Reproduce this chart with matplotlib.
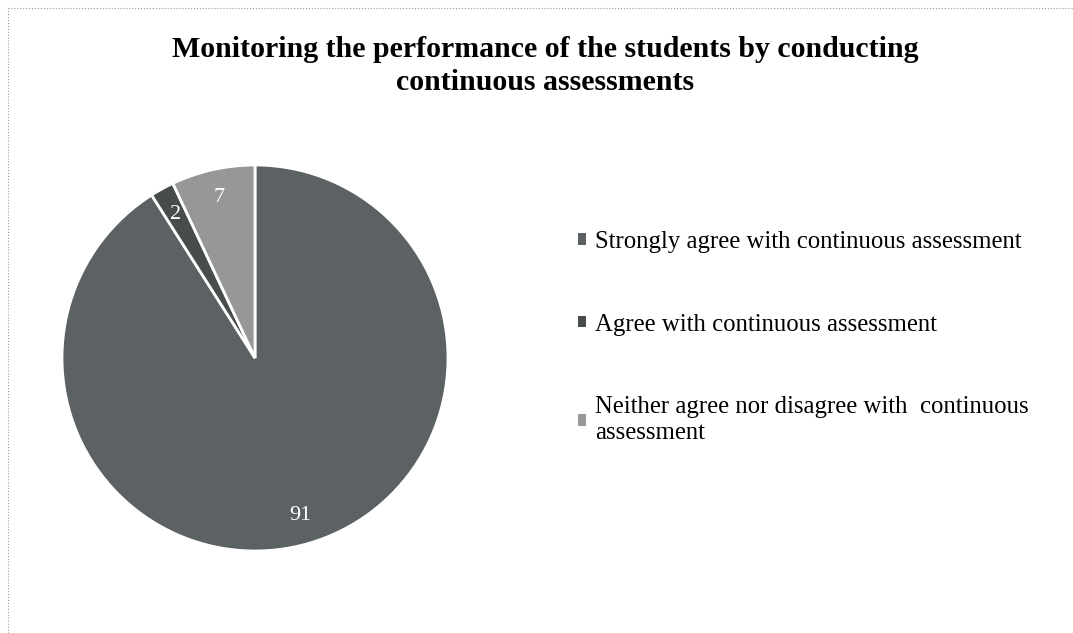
import matplotlib.pyplot as plt
from matplotlib.lines import Line2D
from matplotlib.patches import Patch

# data
categories = ['Strongly agree with continuous assessment',
              'Agree with continuous assessment',
              'Neither agree nor disagree with  continuous\nassessment']
values = [91, 2, 7]
colors = ['#5c6163', '#474c4d', '#959798']

plt.rcParams['font.family'] = ['Liberation Serif', 'DejaVu Serif']

fig = plt.figure(figsize=(10.73, 6.33), dpi=100)
W, H = 1073, 633

# thin frame at top / left like the scanned page
fig.add_artist(Line2D([8 / W, 1], [1 - 8 / H, 1 - 8 / H], color='#999999', lw=0.8, ls=':'))
fig.add_artist(Line2D([8 / W, 8 / W], [0, 1 - 8 / H], color='#999999', lw=0.8, ls=':'))

fig.suptitle('Monitoring the performance of the students by conducting\ncontinuous assessments',
             x=545 / W, y=1 - 36 / H, fontsize=21.5, fontweight='bold', linespacing=1.3)

# pie axes
cx, cy, r = 255, 358, 193
ax = fig.add_axes([(cx - r) / W, 1 - (cy + r) / H, 2 * r / W, 2 * r / H])
wedges, texts = ax.pie(values, colors=colors, startangle=90, counterclock=False,
                       labels=[str(v) for v in values], labeldistance=0.85,
                       wedgeprops=dict(edgecolor='white', linewidth=2),
                       textprops=dict(color='white', fontsize=16))
for t in texts:
    t.set_ha('center')
    t.set_va('center')
ax.set_xlim(-1, 1)
ax.set_ylim(-1, 1)
ax.set_aspect('equal')

handles = [Patch(facecolor=c, edgecolor='none') for c in colors]
leg = fig.legend(handles, categories, loc='upper left', bbox_to_anchor=(578 / W, 1 - 231 / H),
                 frameon=False, fontsize=17.8, handlelength=0.33, handleheight=0.33,
                 handletextpad=0.35, labelspacing=2.45, borderpad=0, borderaxespad=0)
for t in leg.get_texts():
    t.set_linespacing(1.25)

fig.savefig('out.png', dpi=100)
